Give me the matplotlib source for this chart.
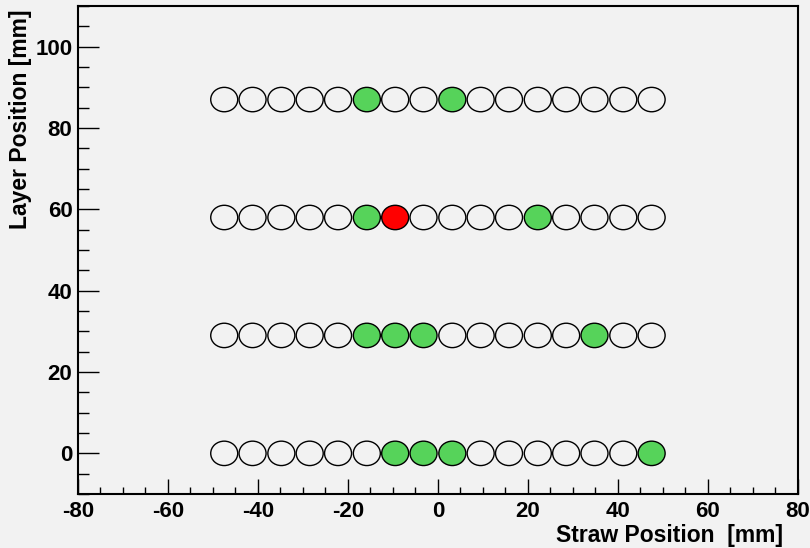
import matplotlib
matplotlib.use("Agg")
import matplotlib.pyplot as plt
from matplotlib.patches import Ellipse
from matplotlib.ticker import MultipleLocator

# Data
straw_x = [-47.5, -41.2, -34.8, -28.5, -22.2, -15.8, -9.5, -3.2,
           3.2, 9.5, 15.8, 22.2, 28.5, 34.8, 41.2, 47.5]
layer_y = [0, 29, 58, 87]
# hit straws (indices into straw_x) per layer
green_hits = {0: [6, 7, 8, 15], 29: [5, 6, 7, 13], 58: [5, 11], 87: [5, 8]}
red_hits = {0: [], 29: [], 58: [6], 87: []}
straw_diameter = 6.0

bg = "#f2f2f2"
green = "#56d35a"
red = "#ff0000"

plt.rcParams['font.family'] = ['Liberation Sans', 'DejaVu Sans']
plt.rcParams['font.weight'] = 'bold'
plt.rcParams['axes.unicode_minus'] = False

fig = plt.figure(figsize=(8.1, 5.48), dpi=100, facecolor=bg)
ax = fig.add_axes([0.0963, 0.0985, 0.985 - 0.0963, 0.989 - 0.0985])
ax.set_facecolor(bg)

for y in layer_y:
    for i, x in enumerate(straw_x):
        if i in red_hits[y]:
            fc = red
        elif i in green_hits[y]:
            fc = green
        else:
            fc = 'none'
        ax.add_patch(Ellipse((x, y), straw_diameter, straw_diameter,
                             facecolor=fc, edgecolor='black', linewidth=1.0, zorder=3))

ax.set_xlim(-80, 80)
ax.set_ylim(-10, 110)
ax.xaxis.set_major_locator(MultipleLocator(20))
ax.xaxis.set_minor_locator(MultipleLocator(5))
ax.yaxis.set_major_locator(MultipleLocator(20))
ax.yaxis.set_minor_locator(MultipleLocator(5))

for s in ax.spines.values():
    s.set_linewidth(1.5)
    s.set_color('black')

ax.tick_params(axis='x', which='major', direction='in', length=10.8, width=1.0,
               labelsize=16, pad=5, top=False)
ax.tick_params(axis='x', which='minor', direction='in', length=5.2, width=1.0, top=False)
ax.tick_params(axis='y', which='major', direction='in', length=15, width=1.0,
               labelsize=16, pad=4, right=False)
ax.tick_params(axis='y', which='minor', direction='in', length=7.9, width=1.0, right=False)
for lbl in ax.get_xticklabels() + ax.get_yticklabels():
    lbl.set_fontweight('bold')

ax.set_xlabel("Straw Position  [mm]", fontsize=16.5, fontweight='bold', loc='right')
ax.set_ylabel("Layer Position [mm]", fontsize=16.5, fontweight='bold', loc='top')
ax.xaxis.set_label_coords(0.979, -0.061)
ax.yaxis.set_label_coords(-0.064, 0.992)

fig.savefig("out.png", dpi=100, facecolor=bg)
